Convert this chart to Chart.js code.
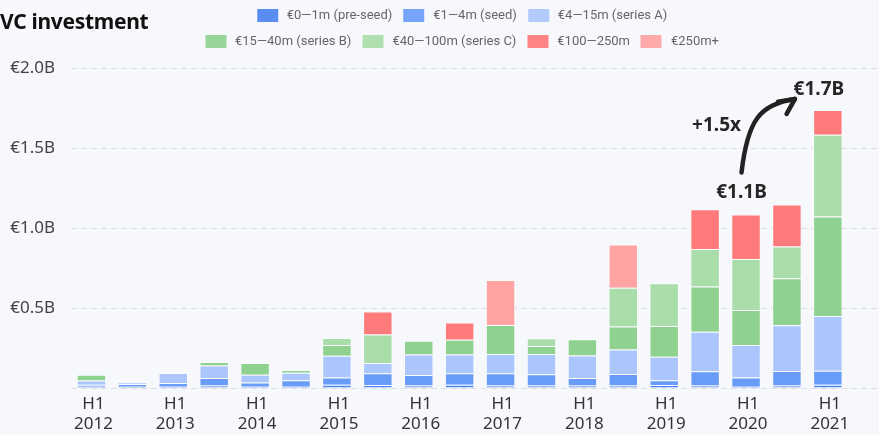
<!DOCTYPE html>
<html>
<head>
<meta charset="utf-8">
<script src="https://cdn.jsdelivr.net/npm/chart.js@4.4.1/dist/chart.umd.min.js"></script>
<style>
  html, body { margin: 0; padding: 0; background: #f7f8fc; overflow: hidden; }
  #wrap { position: relative; width: 879px; height: 435px; }
  #chart-box { position: absolute; left: 0; top: 0; width: 879px; height: 435px; }
  h1 { position: absolute; left: 0; top: 8px; margin: 0; font: bold 21px/27px "Noto Sans", sans-serif; color: #111; letter-spacing: -0.3px; }
  #legend { position: absolute; left: 0; top: 0; width: 879px; height: 60px; font: 13px/18px Roboto, sans-serif; color: #666; }
  #legend .row { position: absolute; left: 462px; transform: translateX(-50%); display: flex; white-space: nowrap; }
  #legend .item { display: flex; align-items: center; margin: 0 5.5px; }
  #legend .swatch { width: 21px; height: 13px; margin-right: 9px; opacity: 0.92; }
</style>
</head>
<body>
<div id="wrap">
  <div id="chart-box"><canvas id="chart"></canvas></div>
  <h1>VC investment</h1>
  <div id="legend"></div>
</div>
<script>
// Half-year periods on the x axis
const periods = [
  'H1 2012', 'H2 2012', 'H1 2013', 'H2 2013', 'H1 2014', 'H2 2014',
  'H1 2015', 'H2 2015', 'H1 2016', 'H2 2016', 'H1 2017', 'H2 2017',
  'H1 2018', 'H2 2018', 'H1 2019', 'H2 2019', 'H1 2020', 'H2 2020',
  'H1 2021'
];

// Invested amount per round size, in € millions
const preSeed  = [8, 8, 8, 15, 8, 8, 20, 19, 15, 21, 15, 15, 15, 15, 19, 15, 8, 15, 21];
const seed     = [12, 17, 23, 48, 27, 40, 46, 73, 67, 71, 77, 71, 48, 73, 29, 90, 58, 92, 87];
const seriesA  = [27, 8, 62, 77, 48, 48, 135, 65, 127, 117, 121, 127, 140, 152, 148, 246, 202, 285, 342];
const seriesB  = [36, 0, 0, 23, 73, 17, 68, 0, 87, 92, 181, 50, 102, 144, 192, 283, 219, 294, 622];
const seriesC  = [0, 0, 0, 0, 0, 0, 44, 177, 0, 0, 0, 48, 0, 242, 267, 235, 319, 198, 511];
const growth   = [0, 0, 0, 0, 0, 0, 0, 144, 0, 108, 0, 0, 0, 0, 0, 248, 279, 263, 154];
const mega     = [0, 0, 0, 0, 0, 0, 0, 0, 0, 0, 281, 0, 0, 271, 0, 0, 0, 0, 0];

// Value axis ticks, in € millions
const yTicks = [0, 500, 1000, 1500, 2000];

// Round-size bands, bottom of the stack first
const bands = [
  { label: '€0—1m (pre-seed)',    values: preSeed, color: '#4d82f0' },
  { label: '€1—4m (seed)',        values: seed,    color: '#699cf8' },
  { label: '€4—15m (series A)',   values: seriesA, color: '#abc6fc' },
  { label: '€15—40m (series B)',  values: seriesB, color: '#8fd18f' },
  { label: '€40—100m (series C)', values: seriesC, color: '#a9dda9' },
  { label: '€100—250m',           values: growth,  color: '#ff7b7b' },
  { label: '€250m+',              values: mega,    color: '#ffa3a3' }
];

// Half-years that get a total callout, and the growth note between them
const callouts = [16, 18];
const growthNote = '+1.5x';

const totals = periods.map((_, i) => bands.reduce((s, b) => s + b.values[i], 0));
const fmtTotal = v => '€' + (v / 1000).toFixed(1) + 'B';

Chart.defaults.font.family = '"Noto Sans", sans-serif';

// Legend rendered as HTML, in two centred rows
const LEGEND_ROWS = [3, 4];
const LEGEND_TOPS = [6, 32];
const htmlLegend = {
  id: 'htmlLegend',
  afterUpdate(chart) {
    const box = document.getElementById('legend');
    box.innerHTML = '';
    const items = Chart.defaults.plugins.legend.labels.generateLabels(chart);
    let k = 0;
    LEGEND_ROWS.forEach((n, r) => {
      const row = document.createElement('div');
      row.className = 'row';
      row.style.top = LEGEND_TOPS[r] + 'px';
      items.slice(k, k + n).forEach(it => {
        const item = document.createElement('div');
        item.className = 'item';
        const sw = document.createElement('span');
        sw.className = 'swatch';
        sw.style.background = it.fillStyle;
        const tx = document.createElement('span');
        tx.textContent = it.text;
        item.appendChild(sw);
        item.appendChild(tx);
        row.appendChild(item);
      });
      k += n;
      box.appendChild(row);
    });
  }
};

// Totals above two bars, joined by a hand-drawn style arrow
const totalCallouts = {
  id: 'totalCallouts',
  afterDatasetsDraw(chart) {
    const { ctx, scales: { x, y } } = chart;
    const pts = callouts.map((idx, n) => ({
      x: x.getPixelForValue(idx) - (n === 0 ? 4.5 : 9),
      y: y.getPixelForValue(totals[idx]) - (n === 0 ? 22 : 20),
      text: fmtTotal(totals[idx])
    }));
    ctx.save();
    ctx.fillStyle = '#262626';
    ctx.font = 'bold 19px "Noto Sans", sans-serif';
    ctx.textAlign = 'center';
    ctx.textBaseline = 'middle';
    pts.forEach(p => ctx.fillText(p.text, p.x, p.y));

    const s = { x: pts[0].x, y: pts[0].y - 20 };
    const e = { x: pts[1].x - 24, y: pts[1].y + 9 };
    ctx.fillText(growthNote, s.x - 25, s.y - 47);

    ctx.strokeStyle = '#222';
    ctx.lineWidth = 4.5;
    ctx.lineCap = 'round';
    ctx.lineJoin = 'round';
    ctx.beginPath();
    ctx.moveTo(s.x, s.y);
    ctx.bezierCurveTo(s.x + 6, s.y - 52, s.x + 18, s.y - 68, e.x, e.y);
    ctx.stroke();
    const len = 17;
    [145 - 26, 145 + 26].forEach(deg => {
      const a = deg * Math.PI / 180;
      ctx.beginPath();
      ctx.moveTo(e.x, e.y);
      ctx.lineTo(e.x + len * Math.cos(a), e.y + len * Math.sin(a));
      ctx.stroke();
    });
    ctx.restore();
  }
};

new Chart(document.getElementById('chart'), {
  type: 'bar',
  data: {
    datasets: bands.map(b => ({
      label: b.label,
      data: b.values.map((v, i) => ({ x: i, y: v })),
      backgroundColor: b.color,
      borderColor: 'rgba(255,255,255,0.55)',
      borderWidth: 1,
      borderSkipped: 'start'
    }))
  },
  options: {
    responsive: true,
    maintainAspectRatio: false,
    animation: false,
    layout: { padding: { top: 68, left: 0, right: 0, bottom: 0 } },
    plugins: {
      legend: { display: false },
      tooltip: { enabled: false }
    },
    scales: {
      x: {
        type: 'linear',
        stacked: true,
        offset: false,
        min: -0.5,
        max: 19.25,
        grid: { display: false, drawTicks: false, offset: false },
        border: { display: false },
        afterBuildTicks: s => {
          s.ticks = periods.map((p, i) => ({ value: i })).filter(t => periods[t.value].startsWith('H1'));
        },
        afterFit: s => {
          s.paddingLeft = 0;
          s.paddingRight = 0;
          s.height = 47;
        },
        ticks: {
          padding: 6,
          labelOffset: 2,
          color: '#333',
          font: { size: 17 },
          maxRotation: 0,
          autoSkip: false,
          callback: v => periods[v].split(' ')
        }
      },
      y: {
        stacked: true,
        min: yTicks[0],
        max: yTicks[yTicks.length - 1],
        afterBuildTicks: s => { s.ticks = yTicks.map(v => ({ value: v })); },
        afterFit: s => { s.width = 71; s.paddingBottom = 0; },
        grid: { color: '#dcdee6', lineWidth: 1, drawTicks: false },
        border: { display: false, dash: [6, 4] },
        ticks: {
          padding: 16,
          color: '#444',
          font: { size: 17 },
          callback: v => v === 0 ? '' : fmtTotal(v)
        }
      }
    }
  },
  plugins: [htmlLegend, totalCallouts]
});
</script>
</body>
</html>
